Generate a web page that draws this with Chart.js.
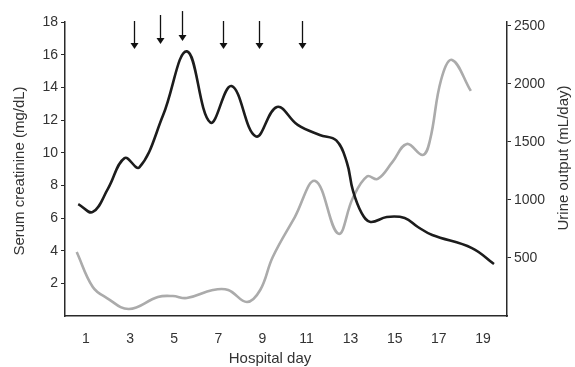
<!DOCTYPE html>
<html>
<head>
<meta charset="utf-8">
<script src="https://cdn.jsdelivr.net/npm/chart.js@4.4.1/dist/chart.umd.min.js"></script>
<style>
  html, body { margin: 0; padding: 0; background: #ffffff; }
  #wrap { width: 575px; height: 367px; }
</style>
</head>
<body>
<div id="wrap"><canvas id="chart"></canvas></div>
<script>
// serum creatinine (left axis)
const creatDays = [0.65, 1.31, 2.0, 2.75, 3.42, 4.5, 5.58, 6.64, 7.6, 8.7, 9.66, 10.6, 11.6, 12.35, 12.83, 13.1, 13.5, 13.9, 14.64, 15.45, 16.05, 16.7, 18.5, 19.5];
const creatValues = [6.85, 6.37, 7.8, 9.67, 9.1, 12.3, 16.2, 11.85, 14.08, 11.0, 12.8, 11.7, 11.08, 10.75, 9.4, 7.7, 6.3, 5.76, 6.06, 6.0, 5.45, 4.96, 4.16, 3.18];

// urine output (right axis)
const urineDays = [0.58, 1.31, 1.95, 2.95, 4.26, 4.94, 5.57, 6.75, 7.45, 8.3, 8.9, 9.47, 10.47, 11.4, 12.44, 13.1, 13.74, 14.23, 14.9, 15.55, 16.27, 16.6, 17.1, 17.6, 18.45];
const urineValues = [552, 250, 155, 60, 164, 172, 155, 224, 224, 121, 224, 509, 853, 1164, 710, 1017, 1203, 1181, 1328, 1483, 1388, 1517, 2034, 2207, 1940];

const xTicks = [1, 3, 5, 7, 9, 11, 13, 15, 17, 19];
const leftTicks = [2, 4, 6, 8, 10, 12, 14, 16, 18];
const rightTicks = [500, 1000, 1500, 2000, 2500];

// treatment arrows (day, top value, tip value on left axis)
const arrowDays = [3.17, 4.35, 5.35, 7.2, 8.84, 10.8];
const arrowTop = [18.06, 18.43, 18.67, 18.06, 18.06, 18.06];
const arrowTip = [16.35, 16.65, 16.84, 16.35, 16.35, 16.35];

const textColor = '#333333';
const axisColor = '#2a2a2a';
const font = { family: "'Liberation Sans', Arial, sans-serif", size: 14 };

const toPoints = (xs, ys) => xs.map((x, i) => ({ x: x, y: ys[i] }));

const extras = {
    id: 'extras',
    afterDraw(chart) {
        const ctx = chart.ctx;
        const xs = chart.scales.x;
        const ys = chart.scales.y;
        ctx.save();
        // arrows
        ctx.strokeStyle = '#111111';
        ctx.fillStyle = '#111111';
        ctx.lineWidth = 1.3;
        arrowDays.forEach((d, i) => {
            const px = Math.round(xs.getPixelForValue(d)) + 0.5;
            const top = ys.getPixelForValue(arrowTop[i]);
            const tip = ys.getPixelForValue(arrowTip[i]);
            ctx.beginPath();
            ctx.moveTo(px, top);
            ctx.lineTo(px, tip - 5);
            ctx.stroke();
            ctx.beginPath();
            ctx.moveTo(px - 4, tip - 6);
            ctx.lineTo(px + 4, tip - 6);
            ctx.lineTo(px, tip);
            ctx.closePath();
            ctx.fill();
        });
        // axis titles
        ctx.fillStyle = textColor;
        ctx.font = "15px 'Liberation Sans', Arial, sans-serif";
        ctx.textAlign = 'center';
        ctx.textBaseline = 'middle';
        ctx.fillText('Hospital day', 270, 359);
        ctx.save();
        ctx.translate(20, 171);
        ctx.rotate(-Math.PI / 2);
        ctx.fillText('Serum creatinine (mg/dL)', 0, 0);
        ctx.restore();
        ctx.save();
        ctx.translate(564, 158);
        ctx.rotate(-Math.PI / 2);
        ctx.fillText('Urine output (mL/day)', 0, 0);
        ctx.restore();
        ctx.restore();
    }
};

new Chart(document.getElementById('chart'), {
    type: 'line',
    data: {
        datasets: [{
            label: 'Serum creatinine',
            data: toPoints(creatDays, creatValues),
            yAxisID: 'y',
            borderColor: '#1c1c1c',
            borderWidth: 2.6,
            pointRadius: 0,
            tension: 0.4,
            fill: false
        }, {
            label: 'Urine output',
            data: toPoints(urineDays, urineValues),
            yAxisID: 'y1',
            borderColor: '#ababab',
            borderWidth: 2.6,
            pointRadius: 0,
            tension: 0.4,
            fill: false
        }]
    },
    options: {
        responsive: true,
        maintainAspectRatio: false,
        animation: false,
        layout: { padding: { top: 22, left: 0, right: 0, bottom: 0 } },
        plugins: {
            legend: { display: false },
            tooltip: { enabled: false }
        },
        scales: {
            x: {
                type: 'linear',
                min: 0.05,
                max: 20.09,
                afterBuildTicks: (s) => { s.ticks = xTicks.map(v => ({ value: v })); },
                afterFit: (s) => { s.height = 51; },
                grid: { display: false },
                border: { display: true, color: axisColor, width: 1.5 },
                ticks: { color: textColor, font: font, padding: 7, maxRotation: 0, autoSkip: false }
            },
            y: {
                position: 'left',
                min: 0,
                max: 18,
                afterBuildTicks: (s) => { s.ticks = leftTicks.map(v => ({ value: v })); },
                afterFit: (s) => { s.width = 65; },
                grid: { drawOnChartArea: false, drawTicks: true, tickLength: 4, color: axisColor },
                border: { display: true, color: axisColor, width: 1.5 },
                ticks: { color: textColor, font: font, padding: 3 }
            },
            y1: {
                position: 'right',
                min: 0,
                max: 2534,
                afterBuildTicks: (s) => { s.ticks = rightTicks.map(v => ({ value: v })); },
                afterFit: (s) => { s.width = 68; },
                grid: { drawOnChartArea: false, drawTicks: true, tickLength: 4, color: axisColor },
                border: { display: true, color: axisColor, width: 1.5 },
                ticks: { color: textColor, font: font, padding: 3, callback: (v) => String(v) }
            }
        }
    },
    plugins: [extras]
});
</script>
</body>
</html>
